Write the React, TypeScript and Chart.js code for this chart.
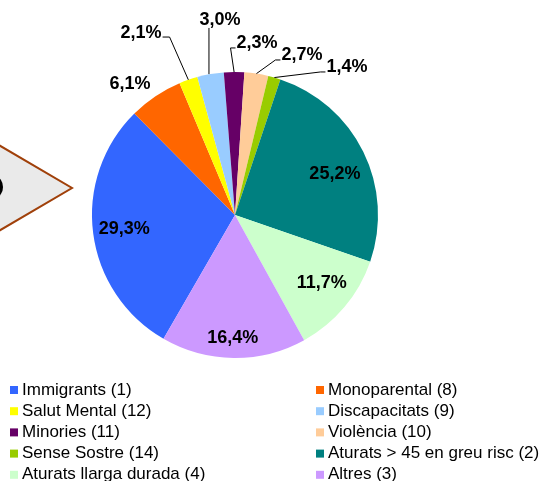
import React, { useEffect, useRef } from "react";
import { Chart, registerables } from "chart.js";

Chart.register(...registerables);

const categories = [
  "Immigrants (1)",
  "Monoparental (8)",
  "Salut Mental (12)",
  "Discapacitats (9)",
  "Minories (11)",
  "Violència (10)",
  "Sense Sostre (14)",
  "Aturats > 45 en greu risc (2)",
  "Aturats llarga durada (4)",
  "Altres (3)",
];
const percentages = [29.3, 6.1, 2.1, 3.0, 2.3, 2.7, 1.4, 25.2, 11.7, 16.4];
const colors = [
  "#3366FF",
  "#FF6600",
  "#FFFF00",
  "#99CCFF",
  "#660066",
  "#FFCC99",
  "#99CC00",
  "#008080",
  "#CCFFCC",
  "#CC99FF",
];

// label layout (angle clockwise from top in degrees, radius factor, leader style)
const labelAngles = [262.8, 321.3, 332.7, 355.6, 7.3, 22.7, 37.1, 67.7, 128, 181];
const labelRadii = [0.78, 1.175, 1.432, 1.368, 1.213, 1.213, 1.298, 0.755, 0.77, 0.86];
const leaderSides = ["none", "none", "right", "bottom", "left", "left", "left", "none", "none", "none"];

// legend order: two columns, row-major
const legendOrder = [0, 1, 2, 3, 4, 5, 6, 7, 8, 9];

const FONT = '"Liberation Sans", Arial, sans-serif';

const decorPlugin = {
  id: "decor",
  beforeDraw(chart: any) {
    const ctx = chart.ctx;
    ctx.save();
    // arrow callout on the left
    ctx.beginPath();
    ctx.moveTo(-3, 144);
    ctx.lineTo(72, 188);
    ctx.lineTo(-3, 232);
    ctx.closePath();
    ctx.fillStyle = "#EAEAEA";
    ctx.fill();
    ctx.strokeStyle = "#A0400A";
    ctx.lineWidth = 2;
    ctx.stroke();
    ctx.beginPath();
    ctx.ellipse(-4, 187, 7, 10, 0, 0, Math.PI * 2);
    ctx.fillStyle = "#000";
    ctx.fill();
    ctx.restore();
  },
  afterDatasetsDraw(chart: any) {
    const ctx = chart.ctx;
    const meta = chart.getDatasetMeta(0);
    const arc0 = meta.data[0];
    const cx = arc0.x;
    const cy = arc0.y;
    const R = arc0.outerRadius;
    ctx.save();
    ctx.font = `bold 18px ${FONT}`;
    ctx.textAlign = "center";
    ctx.textBaseline = "middle";
    ctx.fillStyle = "#000";
    ctx.strokeStyle = "#000";
    ctx.lineWidth = 1;
    meta.data.forEach((arc: any, i: number) => {
      const text = percentages[i].toFixed(1).replace(".", ",") + "%";
      const th = (labelAngles[i] * Math.PI) / 180;
      const r = labelRadii[i] * R;
      const tx = cx + r * Math.sin(th);
      const ty = cy - r * Math.cos(th);
      ctx.fillText(text, tx, ty);
      const side = leaderSides[i];
      if (side !== "none") {
        const mid = (arc.startAngle + arc.endAngle) / 2;
        const ax = cx + R * Math.cos(mid);
        const ay = cy + R * Math.sin(mid);
        const w = ctx.measureText(text).width;
        ctx.beginPath();
        if (side === "right") {
          const sx = tx + w / 2 + 1;
          const sy = ty + 4;
          ctx.moveTo(sx, sy);
          ctx.lineTo(sx + 7, sy);
          ctx.lineTo(ax, ay);
        } else if (side === "left") {
          const sx = tx - w / 2 - 1;
          const sy = ty + 5;
          ctx.moveTo(sx, sy);
          ctx.lineTo(sx - 5, sy);
          ctx.lineTo(ax, ay);
        } else {
          ctx.moveTo(ax - 1.5, ty + 8);
          ctx.lineTo(ax - 1.5, ay);
        }
        ctx.stroke();
      }
    });
    ctx.restore();

    // legend
    ctx.save();
    ctx.font = `17px ${FONT}`;
    ctx.textAlign = "left";
    ctx.textBaseline = "alphabetic";
    legendOrder.forEach((idx, k) => {
      const col = k % 2;
      const row = Math.floor(k / 2);
      const mx = col === 0 ? 10 : 316;
      const base = 394.5 + row * 21.2;
      const my = base - 4.5;
      ctx.fillStyle = colors[idx];
      ctx.fillRect(mx, my - 4, 8, 8);
      ctx.fillStyle = "#000";
      ctx.fillText(categories[idx], mx + 12, base);
    });
    ctx.restore();
  },
};

export default function App() {
  const canvasRef = useRef<HTMLCanvasElement | null>(null);
  useEffect(() => {
    if (!canvasRef.current) return;
    const chart = new Chart(canvasRef.current, {
      type: "pie",
      data: {
        labels: categories,
        datasets: [
          {
            data: percentages,
            backgroundColor: colors,
            borderWidth: 0,
          },
        ],
      },
      options: {
        responsive: false,
        maintainAspectRatio: false,
        animation: false,
        rotation: 210,
        layout: { padding: { left: 92, right: 166, top: 72, bottom: 123 } },
        plugins: {
          legend: { display: false },
          tooltip: { enabled: false },
        },
      },
      plugins: [decorPlugin],
    });
    return () => chart.destroy();
  }, []);
  return (
    <div style={{ position: "fixed", left: 0, top: 0, width: 544, height: 481, background: "#fff" }}>
      <canvas ref={canvasRef} width={544} height={481} style={{ width: 544, height: 481, display: "block" }} />
    </div>
  );
}
